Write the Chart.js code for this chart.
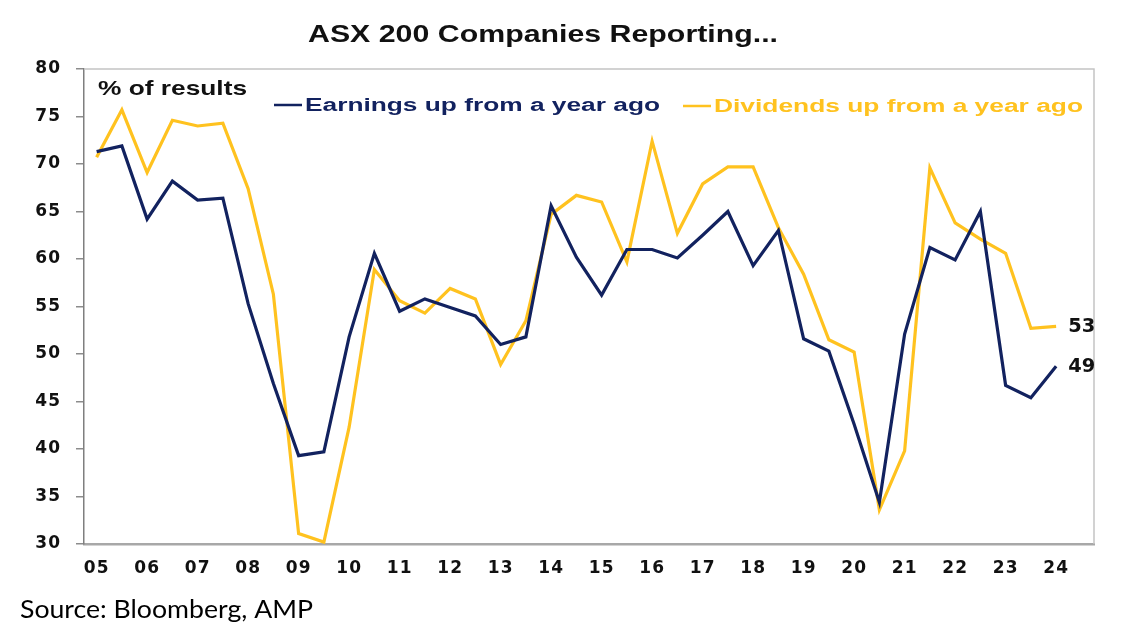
<!DOCTYPE html>
<html>
<head>
<meta charset="utf-8">
<title>ASX 200 Companies Reporting...</title>
<script src="https://cdn.jsdelivr.net/npm/chart.js@4/dist/chart.umd.min.js"></script>
<style>
  html, body { margin: 0; padding: 0; background: #fff; }
  #wrap { width: 1129px; height: 640px; }
</style>
</head>
<body>
<div id="wrap"><canvas id="chart" width="1129" height="640"></canvas></div>
<script>
// reporting seasons, Feb and Aug of each year (last slot is empty space)
const periods = [
  'Feb-05','Aug-05','Feb-06','Aug-06','Feb-07','Aug-07','Feb-08','Aug-08',
  'Feb-09','Aug-09','Feb-10','Aug-10','Feb-11','Aug-11','Feb-12','Aug-12',
  'Feb-13','Aug-13','Feb-14','Aug-14','Feb-15','Aug-15','Feb-16','Aug-16',
  'Feb-17','Aug-17','Feb-18','Aug-18','Feb-19','Aug-19','Feb-20','Aug-20',
  'Feb-21','Aug-21','Feb-22','Aug-22','Feb-23','Aug-23','Feb-24','Aug-24'
];
const yearLabels = ['05','06','07','08','09','10','11','12','13','14',
                    '15','16','17','18','19','20','21','22','23','24'];

// % of results
const earningsUp = [
  71.3, 71.9, 64.2, 68.2, 66.2, 66.4, 55.3, 46.9, 39.3, 39.7,
  51.8, 60.6, 54.5, 55.8, 54.9, 54.0, 51.0, 51.8, 65.6, 60.2,
  56.2, 61.0, 61.0, 60.1, 62.5, 65.0, 59.3, 63.0, 51.6, 50.3,
  42.6, 34.4, 52.1, 61.2, 59.9, 65.0, 46.7, 45.4, 48.7
];
const dividendsUp = [
  70.7, 75.7, 69.1, 74.6, 74.0, 74.3, 67.4, 56.3, 31.1, 30.2,
  42.3, 58.9, 55.6, 54.3, 56.9, 55.8, 48.9, 53.5, 64.7, 66.7,
  66.0, 59.7, 72.4, 62.7, 67.9, 69.7, 69.7, 63.3, 58.4, 51.5,
  50.2, 33.6, 39.8, 69.6, 63.8, 62.1, 60.6, 52.7, 52.9
];

const NAVY = '#12225f';
const GOLD = '#ffc21f';

// draws text stretched to a given width (the source picture is wide)
function fitText(ctx, text, x, y, width, font, color, baseline) {
  ctx.save();
  ctx.letterSpacing = '0px';
  ctx.font = font;
  ctx.textAlign = 'left';
  ctx.textBaseline = baseline || 'alphabetic';
  const w = ctx.measureText(text).width;
  ctx.translate(x, y);
  ctx.scale(width / w, 1);
  ctx.fillStyle = color;
  ctx.fillText(text, 0, 0);
  ctx.restore();
}

const decorations = {
  id: 'decorations',
  beforeDraw(chart) {
    chart.ctx.letterSpacing = '1px';
  },
  beforeDatasetsDraw(chart) {
    const { ctx, chartArea: a } = chart;
    ctx.save();
    ctx.strokeStyle = '#c4c4c4';
    ctx.lineWidth = 1.5;
    ctx.beginPath();
    ctx.moveTo(a.left, a.top);
    ctx.lineTo(a.right, a.top);
    ctx.lineTo(a.right, a.bottom);
    ctx.stroke();
    ctx.restore();
  },
  afterDraw(chart) {
    const ctx = chart.ctx;
    const ds = chart.data.datasets;

    fitText(ctx, 'ASX 200 Companies Reporting...', 308, 42, 470, 'bold 24px "Liberation Sans"', '#111');
    fitText(ctx, '% of results', 98, 95, 149, 'bold 21px "Liberation Sans"', '#111');

    // legend, inside the plot
    const legend = [
      { x: 274, y: 105, w: 355 },
      { x: 683, y: 106, w: 369 }
    ];
    legend.forEach((l, i) => {
      ctx.save();
      ctx.strokeStyle = ds[i].borderColor;
      ctx.lineWidth = 2.5;
      ctx.beginPath();
      ctx.moveTo(l.x, l.y);
      ctx.lineTo(l.x + 28, l.y);
      ctx.stroke();
      ctx.restore();
      fitText(ctx, ds[i].label, l.x + 31, l.y + 5.5, l.w, 'bold 18px "Liberation Sans"', ds[i].borderColor);
    });

    // end-of-line values
    ds.forEach((d, i) => {
      const pts = chart.getDatasetMeta(i).data;
      const last = pts[pts.length - 1];
      const v = Math.round(d.data[d.data.length - 1]);
      fitText(ctx, String(v), last.x + 12, last.y + 1, 27, 'bold 19px "DejaVu Sans"', '#111', 'middle');
    });

    fitText(ctx, 'Source: Bloomberg, AMP', 20, 618, 293, '25px Lato', '#000');
  }
};

new Chart(document.getElementById('chart'), {
  type: 'line',
  data: {
    labels: periods,
    datasets: [
      {
        label: 'Earnings up from a year ago',
        data: earningsUp,
        borderColor: NAVY,
        backgroundColor: NAVY,
        borderWidth: 3.2,
        pointRadius: 0,
        tension: 0
      },
      {
        label: 'Dividends up from a year ago',
        data: dividendsUp,
        borderColor: GOLD,
        backgroundColor: GOLD,
        borderWidth: 3.2,
        pointRadius: 0,
        tension: 0
      }
    ]
  },
  options: {
    responsive: false,
    animation: false,
    layout: { padding: { left: 0, top: 69, right: 35, bottom: 56 } },
    plugins: {
      legend: { display: false },
      title: { display: false },
      tooltip: { enabled: false }
    },
    scales: {
      x: {
        offset: true,
        grid: { display: false, drawTicks: false },
        border: { display: true, color: '#a8a8a8', width: 2.5 },
        ticks: {
          autoSkip: false,
          maxRotation: 0,
          padding: 14,
          color: '#111',
          font: { family: 'DejaVu Sans', size: 17, weight: 'bold' },
          callback: (val, idx) => (idx % 2 === 0 ? yearLabels[idx / 2] : '')
        },
        afterFit(scale) { scale.height = 40; }
      },
      y: {
        min: 30,
        max: 80,
        grid: {
          drawOnChartArea: false,
          drawTicks: true,
          tickLength: 8,
          color: '#8c8c8c',
          lineWidth: 1.5
        },
        border: { display: true, color: '#7f7f7f', width: 1.5 },
        ticks: {
          stepSize: 5,
          padding: 15,
          color: '#111',
          font: { family: 'DejaVu Sans', size: 17, weight: 'bold' }
        },
        afterFit(scale) { scale.width = 84; }
      }
    }
  },
  plugins: [decorations]
});
</script>
</body>
</html>
